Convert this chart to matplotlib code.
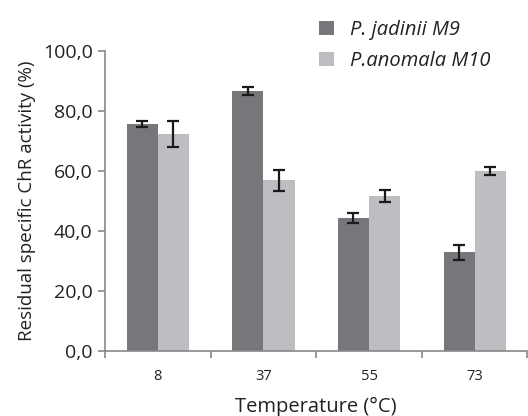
import matplotlib
matplotlib.use("Agg")
import matplotlib.pyplot as plt
import numpy as np

temps = ["8", "37", "55", "73"]
jadinii = [75.6, 86.6, 44.4, 32.9]
jadinii_err = [1.0, 1.3, 1.6, 2.6]
anomala = [72.3, 56.9, 51.8, 60.0]
anomala_err = [4.3, 3.6, 2.0, 1.3]

plt.rcParams['font.family'] = ['Open Sans', 'DejaVu Sans']
plt.rcParams['text.color'] = '#222222'
plt.rcParams['axes.labelcolor'] = '#222222'
plt.rcParams['xtick.labelcolor'] = '#222222'
plt.rcParams['ytick.labelcolor'] = '#222222'

fig = plt.figure(figsize=(5.28, 4.16), dpi=100)
ax = fig.add_axes([0.199, 0.156, 0.8, 0.721])

x = np.arange(len(temps))
w = 0.295
err_kw = dict(ecolor='#1a1a1a', elinewidth=1.6, capsize=4, capthick=1.6)
ax.bar(x - w / 2, jadinii, w, yerr=jadinii_err, color='#76777b', error_kw=err_kw,
       label='P. jadinii M9')
ax.bar(x + w / 2, anomala, w, yerr=anomala_err, color='#bdbec2', error_kw=err_kw,
       label='P.anomala M10')

ax.set_xlim(-0.5, 3.5)
ax.set_ylim(0, 100)
ax.set_yticks(np.arange(0, 101, 20))
ax.set_yticklabels([f"{v:.1f}".replace('.', ',') for v in np.arange(0, 101, 20)], fontsize=14)
ax.set_xticks(x)
ax.set_xticklabels(temps, fontsize=10.5)
ax.set_xticks(np.arange(-0.5, 4, 1), minor=True)
ax.tick_params(axis='x', which='major', length=0, pad=13)
ax.tick_params(axis='x', which='minor', length=5, color='#888888', width=1.2)
ax.tick_params(axis='y', length=5, color='#888888', width=1.2, pad=4)

for s in ['top', 'right']:
    ax.spines[s].set_visible(False)
for s in ['left', 'bottom']:
    ax.spines[s].set_color('#888888')
    ax.spines[s].set_linewidth(1.2)

ax.set_xlabel("Temperature (°C)", fontsize=14.5, labelpad=9)
ax.set_ylabel("Residual specific ChR activity (%)", fontsize=13.5, labelpad=5)

leg = fig.legend(loc='upper left', bbox_to_anchor=(0.57, 0.995), frameon=False,
                 prop={'style': 'italic', 'size': 14.5}, handlelength=0.72,
                 handleheight=0.72, handletextpad=0.8, labelspacing=0.55)

fig.savefig("out.png", dpi=100)
